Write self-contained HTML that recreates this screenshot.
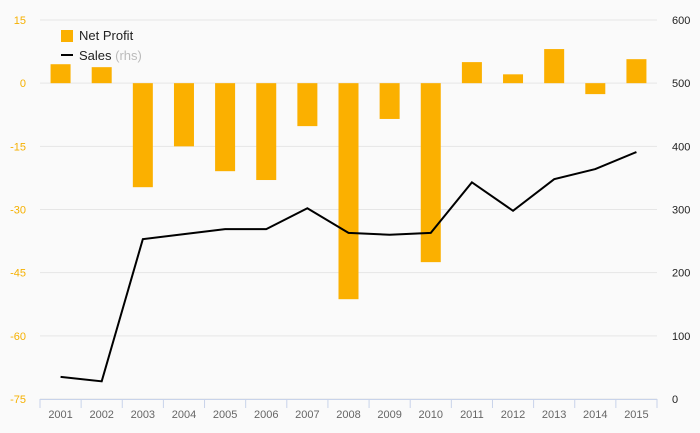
<!DOCTYPE html>
<html><head><meta charset="utf-8"><style>
body{margin:0;background:#fafafa}
svg{display:block;font-family:"Liberation Sans","DejaVu Sans",sans-serif}
</style></head><body>
<svg id="c" width="700" height="433"></svg>
<script>
const categories=["2001","2002","2003","2004","2005","2006","2007","2008","2009","2010","2011","2012","2013","2014","2015"];
const netProfit=[4.5,3.8,-24.7,-15,-20.9,-23,-10.2,-51.3,-8.5,-42.5,5,2.1,8.1,-2.6,5.7];
const sales=[35,28,253,261,269,269,302,263,260,263,343,298,348,364,391];
const leftTicks=[15,0,-15,-30,-45,-60,-75];
const rightTicks=[600,500,400,300,200,100,0];
const NS="http://www.w3.org/2000/svg";
const svg=document.getElementById('c');
const X0=40,X1=657,YT=20,YB=399;
const bw=(X1-X0)/categories.length;
const yL=v=>YT+(15-v)/90*(YB-YT);
const yR=v=>YB-v/600*(YB-YT);
const xC=i=>X0+bw*(i+0.5);
function mk(t,a,txt){const e=document.createElementNS(NS,t);for(const k in a)e.setAttribute(k,a[k]);if(txt!=null)e.textContent=txt;svg.appendChild(e);return e;}
leftTicks.forEach(v=>{
 const g=mk('line',{x1:X0,x2:X1,y1:yL(v),y2:yL(v),stroke:'#e6e6e6','stroke-width':1});
 
 const t=mk('text',{x:26,y:yL(v)+4,'text-anchor':'end','font-size':11,fill:'#f5b000'},v);
 
});
rightTicks.forEach(v=>{
 const t=mk('text',{x:672,y:yR(v)+4,'text-anchor':'start','font-size':11,fill:'#222'},v);
 
});
netProfit.forEach((v,i)=>{
 const y0=yL(0),y1=yL(v);
 const r=mk('rect',{x:xC(i)-10,y:Math.min(y0,y1),width:20,height:Math.abs(y1-y0),fill:'#fbb000'});
 
});
const ax=mk('line',{x1:X0,x2:X1,y1:YB+0.5,y2:YB+0.5,stroke:'#c8d3ea'});

for(let i=0;i<=categories.length;i++){
 const t=mk('line',{x1:X0+bw*i,x2:X0+bw*i,y1:YB,y2:YB+9,stroke:'#c8d3ea'});
 
}
categories.forEach((c,i)=>{
 const t=mk('text',{x:xC(i),y:418,'text-anchor':'middle','font-size':11,fill:'#666'},c);
 
});
const p=mk('path',{d:sales.map((v,i)=>(i?'L':'M')+xC(i)+','+yR(v)).join(''),fill:'none',stroke:'#000','stroke-width':2});

const lr=mk('rect',{x:61,y:30,width:12,height:12,fill:'#fbb000'});

const lt=mk('text',{x:79,y:40,'font-size':13,fill:'#222'},'Net Profit');

const ll=mk('line',{x1:61,x2:73,y1:55,y2:55,stroke:'#000','stroke-width':2});

const st=mk('text',{x:79,y:60,'font-size':13,fill:'#222'},'Sales ');

const ts=document.createElementNS(NS,'tspan');ts.setAttribute('fill','#bbb');ts.textContent='(rhs)';st.appendChild(ts);
</script>
</body></html>
